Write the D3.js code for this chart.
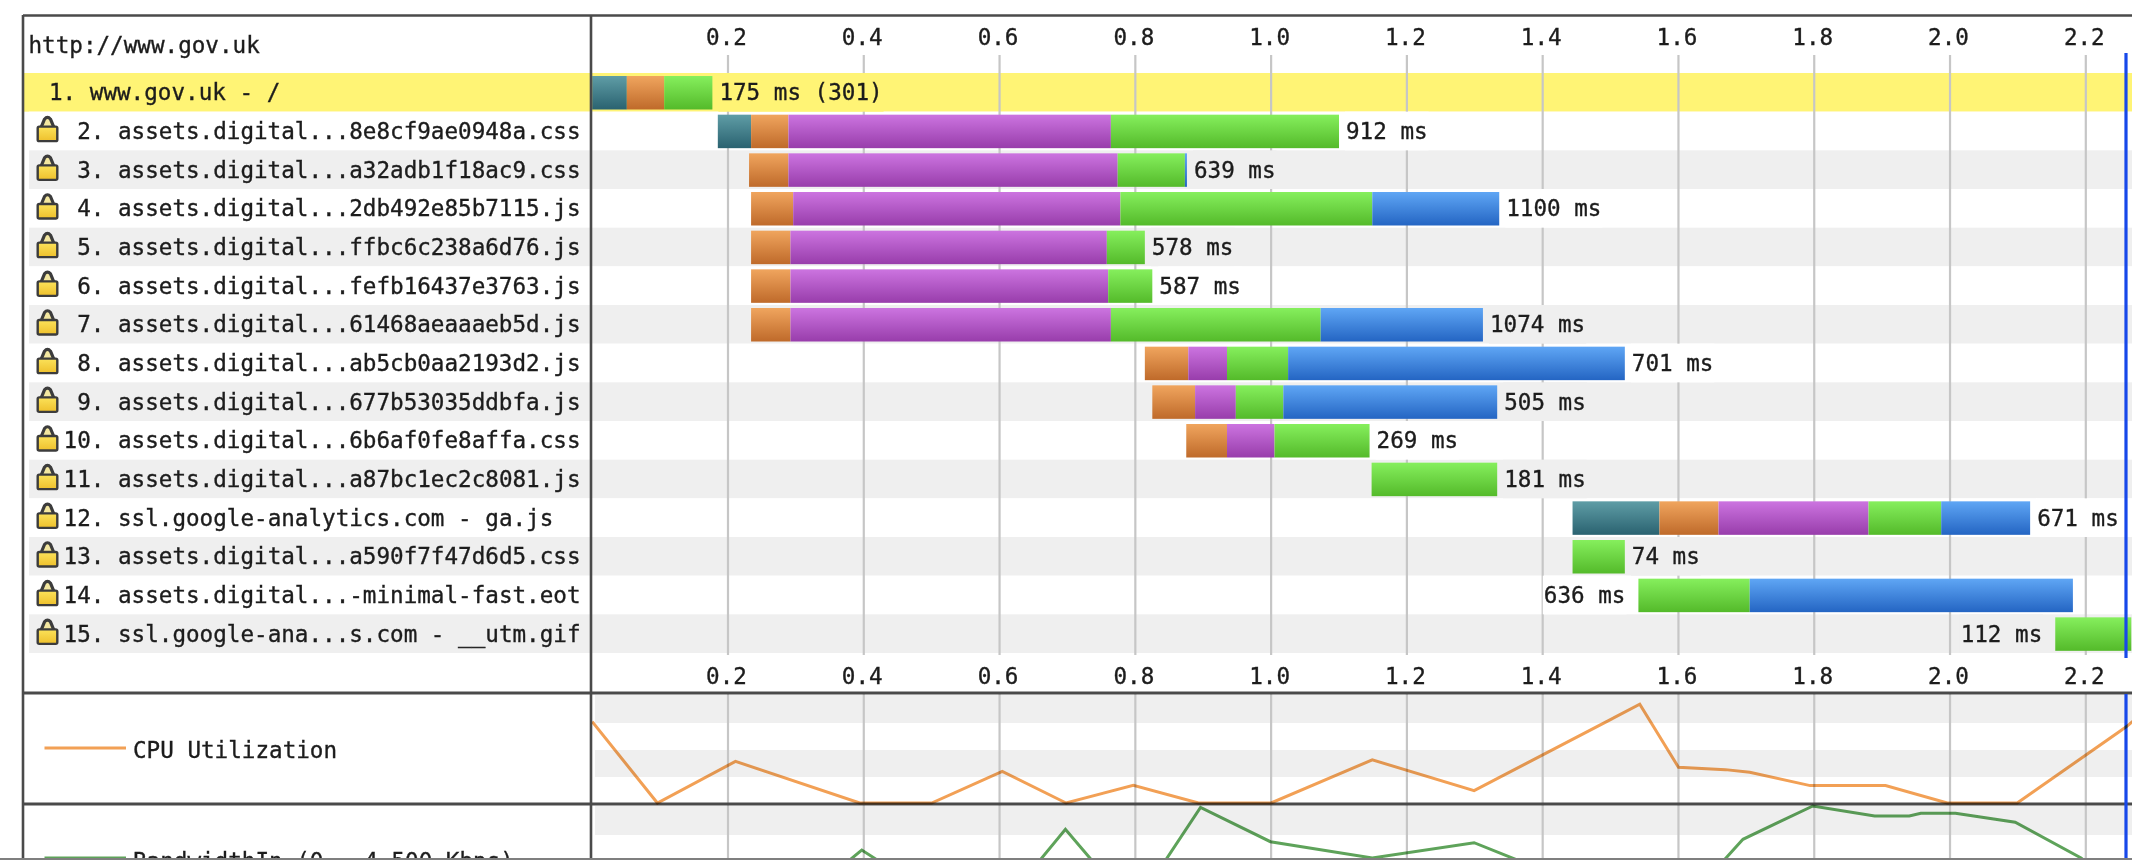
<!DOCTYPE html>
<html><head><meta charset="utf-8">
<script src="https://cdnjs.cloudflare.com/ajax/libs/d3/7.8.5/d3.min.js"></script>
<style>
html,body{margin:0;padding:0;background:#fff;overflow:hidden}
svg{display:block;filter:blur(0.75px)}
text{font-family:"DejaVu Sans Mono","Liberation Mono",monospace;font-size:22.6px;fill:#1c1c1c;stroke:#1c1c1c;stroke-width:0.35px}
</style></head><body>
<script>
const pageTitle = "http://www.gov.uk";
const rowNames = ["www.gov.uk - /","assets.digital...8e8cf9ae0948a.css","assets.digital...a32adb1f18ac9.css","assets.digital...2db492e85b7115.js","assets.digital...ffbc6c238a6d76.js","assets.digital...fefb16437e3763.js","assets.digital...61468aeaaaeb5d.js","assets.digital...ab5cb0aa2193d2.js","assets.digital...677b53035ddbfa.js","assets.digital...6b6af0fe8affa.css","assets.digital...a87bc1ec2c8081.js","ssl.google-analytics.com - ga.js","assets.digital...a590f7f47d6d5.css","assets.digital...-minimal-fast.eot","ssl.google-ana...s.com - __utm.gif"];
const rowLabels = ["175 ms (301)","912 ms","639 ms","1100 ms","578 ms","587 ms","1074 ms","701 ms","505 ms","269 ms","181 ms","671 ms","74 ms","636 ms","112 ms"];
const labelBefore = [false,false,false,false,false,false,false,false,false,false,false,false,false,true,true];
const secure = [false,true,true,true,true,true,true,true,true,true,true,true,true,true,true];
const phaseNames = ["dns","connect","ssl","ttfb","download"];
const rowPhases = [[0,1,3],[0,1,2,3],[1,2,3,4],[1,2,3,4],[1,2,3],[1,2,3],[1,2,3,4],[1,2,3,4],[1,2,3,4],[1,2,3],[3],[0,1,2,3,4],[3],[3,4],[3]];
const rowBreaks = [
 [0,0.051,0.106,0.177],
 [0.185,0.234,0.289,0.764,1.100],
 [0.231,0.289,0.774,0.873,0.876],
 [0.234,0.296,0.778,1.149,1.336],
 [0.234,0.292,0.758,0.814],
 [0.234,0.292,0.760,0.825],
 [0.234,0.292,0.764,1.073,1.312],
 [0.814,0.878,0.935,1.025,1.521],
 [0.825,0.888,0.948,1.018,1.333],
 [0.875,0.935,1.005,1.145],
 [1.148,1.333],
 [1.444,1.572,1.659,1.880,1.987,2.118],
 [1.444,1.521],
 [1.541,1.705,2.181],
 [2.155,2.267]
];
const tickValues = [0.2,0.4,0.6,0.8,1.0,1.2,1.4,1.6,1.8,2.0,2.2];
const cpuTimes = [0,0.096,0.211,0.394,0.5,0.604,0.698,0.797,0.893,1.0,1.149,1.299,1.543,1.6,1.669,1.705,1.794,1.905,1.996,2.099,2.26,2.27];
const cpuValues = [75.4,0,38.5,0,0,29.3,0,16.4,0,0,40,11.5,91.4,33,30.9,28.4,16.1,16.1,0,0,70.8,76];
const bwTimes = [0,0.299,0.397,0.5,0.604,0.697,0.797,0.896,0.999,1.149,1.299,1.436,1.543,1.598,1.695,1.747,1.798,1.889,1.94,1.957,2.008,2.096,2.193,2.258,2.268];
const bwValues = [0,389,2639,800,350,3485,225,4385,2978,2311,2937,1411,184,102,3076,3772,4439,4030,4030,4140,4140,3772,2311,840,700];
const cpuLabel = "CPU Utilization";
const bwLabel = "BandwidthIn (0 - 4,500 Kbps)";

const W=2132,H=861, CH=13.6;
const x=d3.scaleLinear().domain([0.2,2.2]).range([728,2085.8]);
const rowY=d3.scaleBand().domain(d3.range(rowNames.length)).range([73,653]);
const cpuY=d3.scaleLinear().domain([0,100]).range([803,695]);
const bwY=d3.scaleLinear().domain([0,4500]).range([914.5,804.5]);
const svg=d3.select("body").append("svg").attr("width",W).attr("height",H);
const defs=svg.append("defs");
const grads=[["#5f9da6","#2a6270"],["#f0a55e","#bf6a2a"],["#cc74e0","#983dab"],["#86ef5d","#54ba2a"],["#5fa6f5","#2465c3"]];
grads.forEach((g,i)=>{const l=defs.append("linearGradient").attr("id","g"+phaseNames[i]).attr("x1",0).attr("x2",0).attr("y1",0).attr("y2",1);
 l.append("stop").attr("offset",0).attr("stop-color",g[0]);l.append("stop").attr("offset",1).attr("stop-color",g[1]);});
const lockGrad=defs.append("linearGradient").attr("id","lockFill").attr("x1",0).attr("x2",0).attr("y1",0).attr("y2",1);
lockGrad.append("stop").attr("offset",0).attr("stop-color","#fbe25a");
lockGrad.append("stop").attr("offset",1).attr("stop-color","#eec02c");
defs.append("clipPath").attr("id","page").append("rect").attr("x",0).attr("y",0).attr("width",W).attr("height",858);

const root=svg.append("g").attr("clip-path","url(#page)");
root.selectAll("rect.row").data(rowNames).join("rect").attr("class","row")
 .attr("x",(d,i)=>i==0?23:29).attr("y",(d,i)=>rowY(i)).attr("width",W).attr("height",rowY.bandwidth())
 .attr("fill",(d,i)=>i==0?"#fff475":(i%2==0?"#efefef":"#fff"));
[[695,723],[750,777],[806,835]].forEach(s=>root.append("rect").attr("x",595).attr("y",s[0]).attr("width",W).attr("height",s[1]-s[0]).attr("fill","#efefef"));
const grid=root.append("g").attr("stroke","#c6c6c6").attr("stroke-width",2.2);
tickValues.forEach(t=>{
 grid.append("line").attr("x1",x(t)).attr("x2",x(t)).attr("y1",55).attr("y2",655);
 grid.append("line").attr("x1",x(t)).attr("x2",x(t)).attr("y1",694).attr("y2",858);
});
rowLabels.forEach((t,i)=>{
 const br=rowBreaks[i], w=t.length*CH;
 const lx=labelBefore[i]? x(br[0])-13-w : x(br[br.length-1])+7;
 root.append("rect").attr("x",lx-1).attr("y",rowY(i)).attr("width",w+2).attr("height",rowY.bandwidth())
  .attr("fill",i==0?"#fff475":(i%2==0?"#efefef":"#fff"));
 root.append("text").attr("x",lx).attr("y",rowY(i)+rowY.bandwidth()/2).attr("dy","0.35em").text(t);
});
rowPhases.forEach((ph,i)=>{
 ph.forEach((p,j)=>{
  root.append("rect").attr("x",x(rowBreaks[i][j])).attr("y",rowY(i)+3).attr("width",x(rowBreaks[i][j+1])-x(rowBreaks[i][j])).attr("height",33.5)
   .attr("fill","url(#g"+phaseNames[p]+")");
 });
});
[37,676].forEach(a=>{
 const g=root.append("g").attr("transform",`translate(-2,${a+8})`).call(d3.axisTop(x).tickValues(tickValues).tickSize(0).tickPadding(0).tickFormat(d3.format(".1f")));
 g.select(".domain").remove();
 g.selectAll("text").style("font-family",'"DejaVu Sans Mono"').style("font-size","22.6px");
});
const frame=root.append("g").attr("stroke","#4a4a4a").attr("stroke-width",2.6);
frame.append("line").attr("x1",23).attr("x2",W).attr("y1",15.5).attr("y2",15.5);
frame.append("line").attr("x1",23).attr("x2",23).attr("y1",15).attr("y2",858);
frame.append("line").attr("x1",591).attr("x2",591).attr("y1",15).attr("y2",858);
frame.append("line").attr("x1",23).attr("x2",W).attr("y1",693).attr("y2",693).attr("stroke-width",3.2);
frame.append("line").attr("x1",23).attr("x2",W).attr("y1",804).attr("y2",804).attr("stroke-width",3.2);
root.append("line").attr("x1",2126).attr("x2",2126).attr("y1",53).attr("y2",658).attr("stroke","#1748ea").attr("stroke-width",3.2);
root.append("line").attr("x1",2126).attr("x2",2126).attr("y1",694).attr("y2",858).attr("stroke","#1748ea").attr("stroke-width",3.2);
root.append("text").attr("x",28.5).attr("y",45).attr("dy","0.35em").text(pageTitle);
rowNames.forEach((n,i)=>{
 const cy=rowY(i)+rowY.bandwidth()/2;
 const num=String(i+1)+".";
 if(i==0){ root.append("text").attr("x",49).attr("y",cy).attr("dy","0.35em").text(num+" "+n); return; }
 root.append("text").attr("x",63.6+(3-num.length)*CH).attr("y",cy).attr("dy","0.35em").text(num+" "+n);
 if(secure[i]){
  const l=root.append("g").attr("transform",`translate(47.5,${rowY(i)})`);
  l.append("path").attr("d","M-6.5,16 L-3,7.5 Q0,4 3,7.5 L6.5,16").attr("fill","#f3e7a0").attr("stroke","#3c3c3c").attr("stroke-width",3.2);
  l.append("rect").attr("x",-9.8).attr("y",15).attr("width",19.6).attr("height",14.5).attr("rx",1.5).attr("fill","url(#lockFill)").attr("stroke","#3c3c3c").attr("stroke-width",2.4);
 }
});
const lineGen=(ts,vs,y)=>d3.line().x((d,i)=>x(ts[i])).y((d,i)=>y(vs[i]))(vs);
defs.append("clipPath").attr("id","plot").append("rect").attr("x",592).attr("y",690).attr("width",W).attr("height",168);
const plots=root.append("g").attr("clip-path","url(#plot)").style("mix-blend-mode","multiply");
plots.append("path").attr("d",lineGen(cpuTimes,cpuValues,cpuY)).attr("fill","none").attr("stroke","#f2a055").attr("stroke-width",3).style("mix-blend-mode","multiply");
plots.append("path").attr("d",lineGen(bwTimes,bwValues,bwY)).attr("fill","none").attr("stroke","#5ea35a").attr("stroke-width",3).style("mix-blend-mode","multiply");
root.append("line").attr("x1",44.5).attr("x2",126).attr("y1",748).attr("y2",748).attr("stroke","#f2a055").attr("stroke-width",3);
root.append("text").attr("x",133).attr("y",750).attr("dy","0.35em").text(cpuLabel);
root.append("line").attr("x1",44.5).attr("x2",126).attr("y1",858).attr("y2",858).attr("stroke","#5ea35a").attr("stroke-width",3);
root.append("text").attr("x",133).attr("y",861).attr("dy","0.35em").text(bwLabel);
svg.append("line").attr("x1",0).attr("x2",W).attr("y1",859).attr("y2",859).attr("stroke","#555").attr("stroke-width",1.6);
</script></body></html>
